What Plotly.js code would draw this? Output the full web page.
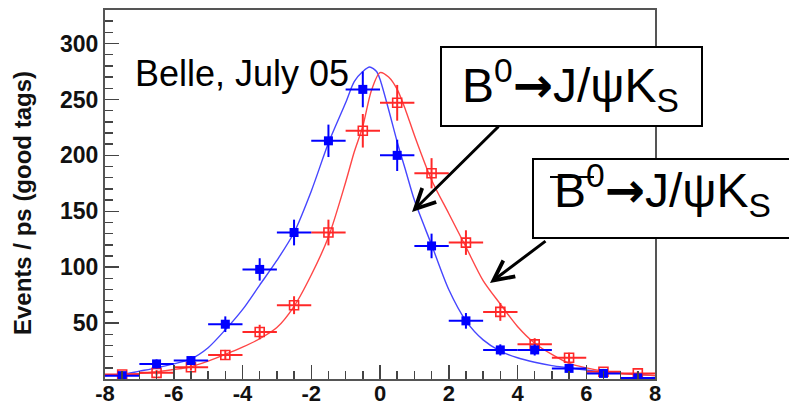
<!DOCTYPE html>
<html>
<head>
<meta charset="utf-8">
<script src="https://cdn.plot.ly/plotly-3.0.1.min.js"></script>
<style>html,body{margin:0;padding:0;background:#fff;}#chart{width:789px;height:408px;}</style>
</head>
<body>
<div id="chart"></div>
<script>
// ---- data ----
const binCenters = [-7.5, -6.5, -5.5, -4.5, -3.5, -2.5, -1.5, -0.5, 0.5, 1.5, 2.5, 3.5, 4.5, 5.5, 6.5, 7.5];
const bluePoints = [3, 13.5, 16.5, 49, 98, 131, 213, 259, 200, 119, 52, 26, 26, 9.5, 5, 1];
const blueErrors = [2, 4, 4, 7, 10, 11.5, 14.5, 16, 14, 11, 7, 5, 5, 3, 2, 1];
const redPoints  = [4, 5.5, 10.5, 21.5, 42, 66, 131, 222, 247, 184, 122, 60, 31, 19, 6.5, 5];
const redErrors  = [2, 2.5, 3, 4.5, 6.5, 8, 11.5, 15, 16, 13.5, 11, 8, 5.5, 4.5, 2.5, 2];

const blueCurveX = [-8, -7.5, -7, -6.5, -6, -5.5, -5, -4.5, -4, -3.5, -3, -2.5, -2, -1.5, -1, -0.75, -0.5, -0.3, -0.1, 0, 0.25, 0.5, 0.75, 1, 1.5, 2, 2.5, 3, 3.5, 4, 4.5, 5, 5.5, 6, 6.5, 7, 7.5, 8];
const blueCurveY = [3, 4, 7, 10, 13.5, 18, 28, 44, 62, 84, 106, 131, 168, 211, 247, 266, 275, 279, 275, 268, 241, 212, 186, 160, 120, 80, 52, 35, 25, 19, 15, 12, 10, 8, 6, 5, 4, 3];
const redCurveX  = [-8, -7.5, -7, -6.5, -6, -5.5, -5, -4.5, -4, -3.5, -3, -2.5, -2, -1.5, -1, -0.75, -0.5, -0.25, 0, 0.25, 0.5, 0.75, 1, 1.5, 2, 2.5, 3, 3.5, 4, 4.5, 5, 5.5, 6, 6.5, 7, 7.5, 8];
const redCurveY  = [3, 4, 5, 6.5, 8.5, 11, 16, 22, 28.5, 36, 46, 65, 93, 127, 176, 203, 226, 258, 274, 270, 259, 240, 218, 178, 148, 118, 88, 67, 47, 32, 22, 14, 10, 7, 5, 4, 3];

const xTickVals = [-8, -6, -4, -2, 0, 2, 4, 6, 8];
const xTickText = ['-8', '-6', '-4', '-2', '0', '2', '4', '6', '8'];
const yTickVals = [50, 100, 150, 200, 250, 300];
const yTickText = ['50', '100', '150', '200', '250', '300'];

const yTitle = 'Events / ps (good tags)';
const labelText = 'Belle, July 05';
const arrowGlyph = '<span style="font-family:\'DejaVu Sans\';font-weight:bold">→</span>';
const decay1 = 'B<sup>0</sup>' + arrowGlyph + 'J/ψK<sub>S</sub>';
const decay2 = 'B<sup>0</sup>' + arrowGlyph + 'J/ψK<sub>S</sub>';

// ---- layout geometry ----
const W = 789, H = 408;
const M = {l: 105, r: 134, t: 10, b: 29};
const PW = W - M.l - M.r, PH = H - M.t - M.b;
const px = v => (v - M.l) / PW;          // pixel x -> paper x
const py = v => (H - M.b - v) / PH;      // pixel y -> paper y

const yTickFont = {family: 'Liberation Sans, Arial, sans-serif', size: 23, color: '#111', weight: 'bold'};
const xTickFont = {family: 'Liberation Sans, Arial, sans-serif', size: 22, color: '#111', weight: 'bold'};

const traces = [
  {x: blueCurveX, y: blueCurveY, type: 'scatter', mode: 'lines', line: {color: 'rgb(70,70,255)', width: 1.4, shape: 'spline', smoothing: 0.8}, hoverinfo: 'skip'},
  {x: redCurveX, y: redCurveY, type: 'scatter', mode: 'lines', line: {color: 'rgb(255,70,70)', width: 1.4, shape: 'spline', smoothing: 0.8}, hoverinfo: 'skip'},
  {x: binCenters, y: redPoints, type: 'scatter', mode: 'markers',
   marker: {symbol: 'square-open', size: 9, color: 'rgb(255,40,40)', line: {width: 1.6, color: 'rgb(255,40,40)'}},
   error_x: {type: 'constant', value: 0.5, color: 'rgb(255,40,40)', thickness: 2, width: 0},
   error_y: {type: 'data', array: redErrors, color: 'rgb(255,40,40)', thickness: 2, width: 0}},
  {x: binCenters, y: bluePoints, type: 'scatter', mode: 'markers',
   marker: {symbol: 'square', size: 9, color: 'rgb(0,0,255)'},
   error_x: {type: 'constant', value: 0.5, color: 'rgb(0,0,255)', thickness: 2, width: 0},
   error_y: {type: 'data', array: blueErrors, color: 'rgb(0,0,255)', thickness: 2, width: 0}}
];

const layout = {
  width: W, height: H,
  margin: M,
  paper_bgcolor: '#fff', plot_bgcolor: '#fff',
  showlegend: false,
  font: {family: 'Liberation Sans, Arial, sans-serif', color: '#000'},
  xaxis: {
    range: [-8, 8], tickvals: xTickVals, ticktext: xTickText,
    ticks: 'inside', ticklen: 14, tickwidth: 1.5, tickcolor: '#444', ticklabelstandoff: -6,
    minor: {dtick: 0.5, ticks: 'inside', ticklen: 8, tickcolor: '#444', tickwidth: 1.5, showgrid: false},
    showline: true, linecolor: '#555', linewidth: 2, mirror: true,
    showgrid: false, zeroline: false, tickfont: xTickFont, automargin: false
  },
  yaxis: {
    range: [0, 330], tickvals: yTickVals, ticktext: yTickText,
    ticks: 'inside', ticklen: 14, tickwidth: 1.5, tickcolor: '#444',
    minor: {dtick: 10, ticks: 'inside', ticklen: 8, tickcolor: '#444', tickwidth: 1.5, showgrid: false},
    showline: true, linecolor: '#555', linewidth: 2, mirror: true,
    showgrid: false, zeroline: false, tickfont: yTickFont, automargin: false
  },
  shapes: [
    {type: 'rect', xref: 'paper', yref: 'paper', x0: px(441), x1: px(702), y0: py(126), y1: py(47), line: {color: '#000', width: 2}, fillcolor: '#fff', layer: 'above'},
    {type: 'rect', xref: 'paper', yref: 'paper', x0: px(533), x1: px(795), y0: py(238), y1: py(159), line: {color: '#000', width: 2}, fillcolor: '#fff', layer: 'above'},
    {type: 'line', xref: 'paper', yref: 'paper', x0: px(550), x1: px(594), y0: py(177), y1: py(177), line: {color: '#000', width: 2}, layer: 'above'}
  ],
  annotations: [
    {xref: 'paper', yref: 'paper', x: px(22), y: py(203), xanchor: 'center', yanchor: 'middle', textangle: -90, text: yTitle, showarrow: false, font: {size: 24, color: '#111', weight: 'bold'}},
    {xref: 'paper', yref: 'paper', x: px(133), y: py(73), xanchor: 'left', yanchor: 'middle', text: labelText, showarrow: false, font: {size: 36, color: '#000'}},
    {xref: 'paper', yref: 'paper', x: px(570), y: py(85), xanchor: 'center', yanchor: 'middle', text: decay1, showarrow: false, font: {size: 48, color: '#000'}},
    {xref: 'paper', yref: 'paper', x: px(662), y: py(190), xanchor: 'center', yanchor: 'middle', text: decay2, showarrow: false, font: {size: 48, color: '#000'}},
    {xref: 'paper', yref: 'paper', x: px(412), y: py(212), ax: 88, ay: -87, text: '', showarrow: true, arrowhead: 5, arrowsize: 1.3, arrowwidth: 3, arrowcolor: '#000'},
    {xref: 'paper', yref: 'paper', x: px(490), y: py(283), ax: 57, ay: -43, text: '', showarrow: true, arrowhead: 5, arrowsize: 1.3, arrowwidth: 3, arrowcolor: '#000'}
  ]
};

Plotly.newPlot('chart', traces, layout, {staticPlot: true, displayModeBar: false});
</script>
</body>
</html>
